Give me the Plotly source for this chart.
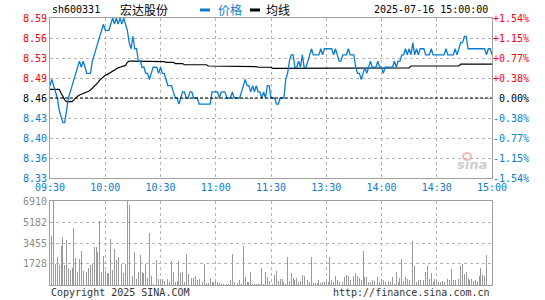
import plotly.graph_objects as go

# ---------------- data ----------------
time_ticks = [0, 30, 60, 90, 120, 150, 180, 210, 240]
time_labels = ["09:30", "10:00", "10:30", "11:00", "11:30", "13:30", "14:00", "14:30", "15:00"]
prev_close = 8.46
price_ticks = [8.33, 8.3625, 8.395, 8.4275, 8.46, 8.4925, 8.525, 8.5575, 8.59]
price_labels = ["8.33", "8.36", "8.40", "8.43", "8.46", "8.49", "8.53", "8.56", "8.59"]
pct_labels = ["-1.54%", "-1.15%", "-0.77%", "-0.38%", "\u00a00.00%", "+0.38%", "+0.77%", "+1.15%", "+1.54%"]
vol_ticks = [1728, 3455, 5182, 6910]
vol_labels = ["1728", "3455", "5182", "6910"]

price = [
    8.48, 8.49, 8.48, 8.47, 8.46, 8.44, 8.43, 8.42, 8.42, 8.44,
    8.46, 8.47, 8.48, 8.49, 8.50, 8.51, 8.52, 8.51, 8.52, 8.51,
    8.50, 8.50, 8.50, 8.52, 8.53, 8.54, 8.55, 8.56, 8.57, 8.58,
    8.57, 8.57, 8.57, 8.58, 8.59, 8.58, 8.59, 8.58, 8.59, 8.58,
    8.59, 8.58, 8.57, 8.55, 8.54, 8.56, 8.54, 8.54, 8.52, 8.52,
    8.51, 8.51, 8.50, 8.50, 8.49, 8.50, 8.51, 8.51, 8.51, 8.50,
    8.51, 8.50, 8.50, 8.49, 8.48, 8.48, 8.48, 8.47, 8.46, 8.46,
    8.45, 8.46, 8.47, 8.47, 8.46, 8.46, 8.47, 8.47, 8.46, 8.46,
    8.46, 8.45, 8.45, 8.45, 8.45, 8.45, 8.45, 8.45, 8.47, 8.47,
    8.47, 8.47, 8.46, 8.47, 8.47, 8.47, 8.46, 8.46, 8.46, 8.47,
    8.46, 8.46, 8.46, 8.46, 8.47, 8.48, 8.49, 8.48, 8.48, 8.47,
    8.48, 8.47, 8.48, 8.47, 8.47, 8.46, 8.47, 8.46, 8.48, 8.48,
    8.46, 8.46, 8.46, 8.45, 8.45, 8.46, 8.46, 8.46, 8.49, 8.50,
    8.52, 8.53, 8.53, 8.51, 8.51, 8.52, 8.51, 8.53, 8.51, 8.51,
    8.52, 8.53, 8.54, 8.53, 8.53, 8.53, 8.53, 8.54, 8.53, 8.54,
    8.54, 8.54, 8.54, 8.54, 8.53, 8.54, 8.53, 8.52, 8.52, 8.53,
    8.53, 8.53, 8.54, 8.53, 8.53, 8.53, 8.51, 8.50, 8.50, 8.49,
    8.50, 8.51, 8.50, 8.51, 8.52, 8.51, 8.51, 8.51, 8.52, 8.51,
    8.51, 8.50, 8.51, 8.51, 8.51, 8.51, 8.51, 8.52, 8.51, 8.52,
    8.52, 8.53, 8.53, 8.54, 8.53, 8.54, 8.53, 8.55, 8.53, 8.54,
    8.53, 8.54, 8.54, 8.54, 8.53, 8.53, 8.53, 8.54, 8.53, 8.53,
    8.53, 8.53, 8.53, 8.53, 8.53, 8.54, 8.53, 8.53, 8.53, 8.53,
    8.54, 8.53, 8.54, 8.55, 8.55, 8.56, 8.56, 8.54, 8.54, 8.54,
    8.54, 8.54, 8.54, 8.54, 8.54, 8.54, 8.54, 8.53, 8.54, 8.54,
    8.53,
]

avg = (
    [8.474] * 6
    + [8.468, 8.462, 8.457, 8.454, 8.454, 8.454, 8.454, 8.457, 8.461, 8.463,
       8.465, 8.466, 8.467, 8.469, 8.470, 8.471, 8.473, 8.476, 8.478, 8.481,
       8.485, 8.489, 8.492, 8.495, 8.497, 8.498, 8.500, 8.502, 8.504, 8.505,
       8.507, 8.509, 8.510, 8.511, 8.512, 8.513, 8.518, 8.520]
    + [8.520] * 9
    + [8.519] * 10
    + [8.518] * 5
    + [8.516] * 5
    + [8.514] * 13
    + [8.512] * 13
    + [8.511] * 14
    + [8.510] * 8
    + [8.508] * 20
    + [8.509] * 55
    + [8.512] * 27
    + [8.515] * 18
)

volume = [
    767, 4055, 6900, 1726, 2329, 1644, 3206, 3973, 1644, 3699,
    1370, 1233, 1425, 4713, 2247, 1041, 2137, 2822, 1151, 2411,
    1096, 1425, 1644, 1726, 3096, 3151, 2740, 5261, 1096, 2411,
    1151, 959, 959, 3781, 1233, 2959, 2055, 2329, 1151, 1726,
    959, 1726, 6910, 6576, 1041, 767, 2740, 493, 1096, 2466,
    1041, 959, 1726, 548, 4247, 767, 55, 329, 2055, 493,
    466, 466, 329, 2959, 493, 274, 1973, 1096, 274, 329,
    1973, 959, 1041, 219, 2548, 877, 219, 548, 603, 767,
    411, 493, 1507, 219, 1699, 192, 192, 548, 274, 274,
    329, 219, 192, 55, 82, 82, 82, 82, 411, 2548,
    274, 82, 192, 411, 82, 3206, 685, 219, 274, 1096,
    82, 82, 82, 82, 82, 1425, 82, 1096, 685, 329,
    219, 82,
    822, 1151, 329, 493, 493, 219, 55, 2329, 329, 1014,
    548, 411, 548, 274, 329, 822, 767, 329, 411, 274,
    2329, 137, 137, 137, 411, 137, 219, 219, 219, 274,
    2329, 411, 219, 767, 411, 219, 1233, 274, 685, 822,
    767, 411, 329, 767, 959, 767, 548, 411, 2795, 685,
    685, 274, 219, 411, 329, 603, 685, 219, 493, 411,
    219, 55, 329, 219, 685, 55, 1041, 219, 603, 2137,
    329, 685, 493, 411, 877, 3617, 1589, 274, 411, 411,
    1425, 411, 1041, 1589, 493, 959, 274, 493, 411, 219,
    274, 329, 274, 411, 493, 411, 1315, 411, 411, 411,
    493, 1589, 1699, 877, 1041, 603, 411, 493, 329, 411,
    274, 767, 1425, 822, 767, 2466,
    0, 0, 0,
]

minutes = list(range(len(price)))

# ---------------- styling ----------------
BLUE = "#0a7cd2"
LBLUE = "#0a7cd2"
RED = "#ff0000"
GRID = "#b4b4b4"
FRAME = "#a0a0a0"
MONO = "DejaVu Sans Mono"

W, H = 545, 300
L, R, T, B = 50, 53, 18, 15
PH = H - T - B


def py(y):  # pixel y -> paper y
    return (H - B - y) / PH


def px(x):
    return (x - L) / (W - L - R)


def colored(vals, labels):
    out = []
    for v, t in zip(vals, labels):
        if abs(v - prev_close) < 1e-9:
            c = "#000000"
        elif v > prev_close:
            c = RED
        else:
            c = LBLUE
        out.append(f"<span style='color:{c}'>{t}</span>")
    return out


fig = go.Figure()

fig.add_trace(go.Bar(
    x=minutes, y=volume, xaxis="x2", yaxis="y3",
    marker=dict(color="#9a9a9a", line=dict(width=0)), width=0.5,
    hoverinfo="skip", showlegend=False,
))
fig.add_trace(go.Scatter(
    x=minutes, y=avg, xaxis="x", yaxis="y", mode="lines",
    line=dict(color="#000000", width=1.2), hoverinfo="skip", showlegend=False,
))
fig.add_trace(go.Scatter(
    x=minutes, y=price, xaxis="x", yaxis="y", mode="lines",
    line=dict(color=BLUE, width=1.3), hoverinfo="skip", showlegend=False,
))
# invisible trace to activate right axis
fig.add_trace(go.Scatter(
    x=[0], y=[prev_close], xaxis="x", yaxis="y2", mode="markers",
    marker=dict(opacity=0), hoverinfo="skip", showlegend=False,
))

price_dom = [py(178), 1.0]
vol_dom = [0.0, py(201)]

common_x = dict(
    range=[0, 240], tickvals=time_ticks, showgrid=True, gridcolor=GRID,
    griddash="dot", gridwidth=1, showline=True, linecolor=FRAME, linewidth=1,
    mirror=True, zeroline=False, ticks="", automargin=False,
)

fig.update_layout(
    width=W, height=H,
    margin=dict(l=L, r=R, t=T, b=B, autoexpand=False),
    paper_bgcolor="white", plot_bgcolor="white",
    font=dict(family=MONO, size=10, color="#000"),
    bargap=0,
    xaxis=dict(**common_x, domain=[0, 1], anchor="y",
               ticktext=time_labels,
               showticklabels=True, tickfont=dict(family=MONO, size=10, color=LBLUE)),
    xaxis2=dict(**common_x, domain=[0, 1], anchor="y3", showticklabels=False,
                ticktext=time_labels),
    yaxis=dict(domain=price_dom, range=[price_ticks[0], price_ticks[-1]],
               tickvals=price_ticks, ticktext=colored(price_ticks, price_labels),
               showgrid=True, gridcolor=GRID, griddash="dot", showline=True,
               linecolor=FRAME, mirror=True, zeroline=False, ticks="",
               tickfont=dict(family=MONO, size=10), anchor="x", automargin=False),
    yaxis2=dict(domain=price_dom, range=[price_ticks[0], price_ticks[-1]],
                overlaying="y", side="right", tickvals=price_ticks,
                ticktext=colored(price_ticks, pct_labels), showgrid=False,
                zeroline=False, ticks="", tickfont=dict(family=MONO, size=10),
                anchor="x", automargin=False),
    yaxis3=dict(domain=vol_dom, range=[0, vol_ticks[-1]], tickvals=vol_ticks,
                ticktext=vol_labels, showgrid=True, gridcolor=GRID, griddash="dot",
                showline=True, linecolor=FRAME, mirror=True, zeroline=False,
                ticks="", tickfont=dict(family=MONO, size=10, color="#8c8c8c"),
                anchor="x2", automargin=False),
)

# prev-close dashed line
fig.add_shape(type="line", xref="x", yref="y", x0=0, x1=240, y0=prev_close, y1=prev_close,
              line=dict(color="#000", width=1, dash="3px,2px"))

ann = []
ann.append(dict(text="sh600331", x=px(50), y=py(10), xanchor="left", yanchor="middle",
                font=dict(family=MONO, size=10, color="#000")))
ann.append(dict(text="宏达股份", x=px(144), y=py(10), xanchor="center", yanchor="middle",
                font=dict(family="Noto Sans CJK SC", size=12, color="#000")))
ann.append(dict(text="价格", x=px(216), y=py(10), xanchor="left", yanchor="middle",
                font=dict(family="Noto Sans CJK SC", size=12, color=BLUE)))
ann.append(dict(text="均线", x=px(264), y=py(10), xanchor="left", yanchor="middle",
                font=dict(family="Noto Sans CJK SC", size=12, color="#000")))
ann.append(dict(text="2025-07-16 15:00:00", x=px(490), y=py(10), xanchor="right", yanchor="middle",
                font=dict(family=MONO, size=10, color="#000")))
ann.append(dict(text="Copyright 2025 SINA.COM", x=px(49), y=py(292), xanchor="left", yanchor="middle",
                font=dict(family=MONO, size=10, color="#333")))
ann.append(dict(text="http://finance.sina.com.cn", x=px(492), y=py(292), xanchor="right", yanchor="middle",
                font=dict(family=MONO, size=10, color="#333")))
ann.append(dict(text="<b><i>sina</i></b>", x=px(472), y=py(164), xanchor="center", yanchor="middle",
                font=dict(family="DejaVu Sans", size=13, color="rgba(195,195,195,0.85)")))
for a in ann:
    a.update(xref="paper", yref="paper", showarrow=False)
fig.update_layout(annotations=ann)

# legend swatches
fig.add_shape(type="line", xref="paper", yref="paper", x0=px(200), x1=px(210), y0=py(10), y1=py(10),
              line=dict(color=BLUE, width=3))
fig.add_shape(type="line", xref="paper", yref="paper", x0=px(250), x1=px(260), y0=py(10), y1=py(10),
              line=dict(color="#000", width=3))
# watermark eye (light red ring)
fig.add_shape(type="circle", xref="paper", yref="paper", x0=px(463), x1=px(471), y0=py(160), y1=py(153),
              line=dict(color="rgba(235,130,130,0.55)", width=2))

fig.write_html("out.html",
               config={"displayModeBar": False, "staticPlot": True},
               post_script="document.body.style.margin='0';document.body.style.overflow='hidden';")
